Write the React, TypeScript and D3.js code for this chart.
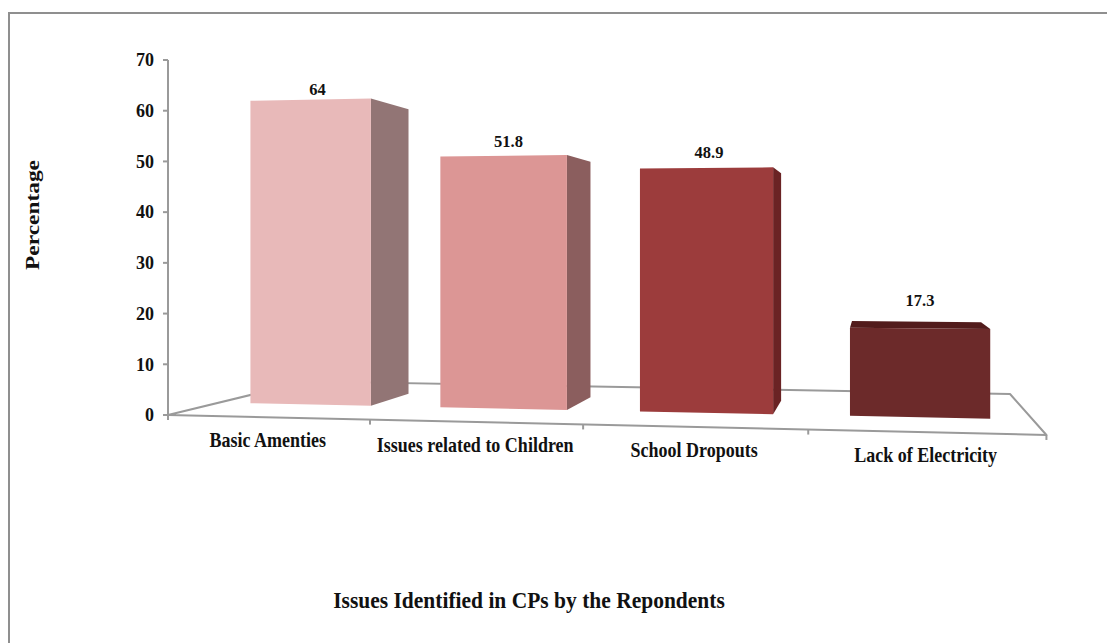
import React from "react";
import * as d3 from "d3";

const categories = ["Basic Amenties", "Issues related to Children", "School Dropouts", "Lack of Electricity"];
const values = [64, 51.8, 48.9, 17.3];
const valueLabels = ["64", "51.8", "48.9", "17.3"];
const frontColors = ["#E8B9B9", "#DC9695", "#9C3C3C", "#6C2A2A"];
const sideColors = ["#927575", "#8B5E5E", "#6A2324", "#5A1E1E"];
const topColors = ["#F0CFCF", "#E8B0B0", "#B24E4E", "#521C1C"];
const yTicks = [0, 10, 20, 30, 40, 50, 60, 70];
const yLabel = "Percentage";
const xTitle = "Issues Identified in CPs by the Repondents";

const W = 1107;
const H = 643;
const FONT = "'Liberation Serif', 'Times New Roman', serif";

// perspective camera parameters (world: X category units, Z depth 0..1)
const P = -0.026, Q = 0.243, X0 = 168, AX = 192.4, BZ = 212.8, HOR = 243, EYE = 172;

const xBand = d3.scaleBand<string>().domain(categories).range([-0.01, 3.99]).paddingInner(0.36).paddingOuter(0.18);
const yScale = d3.scaleLinear().domain([0, 70]).range([0, 355]);

function project(X: number, v: number, Z: number): [number, number] {
  const D = 1 + P * X + Q * Z;
  return [(X0 + AX * X + BZ * Z) / D, HOR + (EYE - yScale(v)) / D];
}

const pts = (arr: [number, number][]) => arr.map((p) => p.join(",")).join(" ");

const Z0 = 0.32, Z1 = 0.67;

export default function App() {
  const floor = [project(0, 0, 0), project(4, 0, 0), project(4, 0, 1), project(0, 0, 1)];
  const gray = "#9A9A9A";
  const axisTop = project(0, 70, 0);
  const axisBot = project(0, 0, 0);

  return (
    <svg width={W} height={H} style={{ position: "absolute", left: 0, top: 0, background: "#fff" }} fontFamily={FONT}>
      <rect x={9} y={13} width={1200} height={700} fill="#fff" stroke="#8F8F8F" strokeWidth={2} />
      {/* floor */}
      <polygon points={pts(floor as [number, number][])} fill="#fff" stroke={gray} strokeWidth={2} strokeLinejoin="round" />
      {d3.range(0, 5).map((i) => {
        const [x, y] = project(i, 0, 0);
        return <line key={"ft" + i} x1={x} y1={y} x2={x} y2={y + 5} stroke={gray} strokeWidth={2} />;
      })}
      {/* y axis */}
      <line x1={axisBot[0]} y1={axisBot[1]} x2={axisTop[0]} y2={axisTop[1]} stroke={gray} strokeWidth={2} />
      {yTicks.map((t) => {
        const [x, y] = project(0, t, 0);
        return (
          <g key={"yt" + t}>
            <line x1={x - 5} y1={y} x2={x} y2={y} stroke={gray} strokeWidth={2} />
            <text x={x - 14} y={y} dy="0.35em" textAnchor="end" fontSize={18} fontWeight="bold" fill="#111">
              {t}
            </text>
          </g>
        );
      })}
      {/* bars */}
      {categories.map((c, i) => {
        const xa = xBand(c)!;
        const xb = xa + xBand.bandwidth();
        const v = values[i];
        const fl0 = project(xa, 0, Z0), fr0 = project(xb, 0, Z0), fr1 = project(xb, v, Z0), fl1 = project(xa, v, Z0);
        const br0 = project(xb, 0, Z1), br1 = project(xb, v, Z1), bl1 = project(xa, v, Z1);
        const showSide = br0[0] > fr0[0] + 0.5;
        const showTop = bl1[1] < fl1[1] - 0.5;
        const mid = project(xa + xBand.bandwidth() / 2, v, 0.37);
        const backMid = project(xa + xBand.bandwidth() / 2, v, Z1);
        return (
          <g key={c}>
            {showSide && <polygon points={pts([fr0, br0, br1, fr1])} fill={sideColors[i]} />}
            {showTop && <polygon points={pts([fl1, fr1, br1, bl1])} fill={topColors[i]} />}
            <polygon points={pts([fl0, fr0, fr1, fl1])} fill={frontColors[i]} />
            <text x={mid[0] + 1} y={backMid[1] - 15.5} textAnchor="middle" fontSize={16.5} fontWeight="bold" fill="#111">
              {valueLabels[i]}
            </text>
          </g>
        );
      })}
      {/* category labels */}
      {categories.map((c, i) => {
        const [x, y] = project(i + 0.5, 0, 0);
        return (
          <text key={"cl" + c} transform={`translate(${x},${y + 30}) scale(1,1.12)`} textAnchor="middle" fontSize={18} fontWeight="bold" fill="#111">
            {c}
          </text>
        );
      })}
      <text transform="translate(39,215) rotate(-90) scale(1.2,1)" textAnchor="middle" fontSize={19.5} fontWeight="bold" fill="#111">
        {yLabel}
      </text>
      <text transform="translate(529,608) scale(1,1.12)" textAnchor="middle" fontSize={21.5} fontWeight="bold" fill="#111">
        {xTitle}
      </text>
    </svg>
  );
}
